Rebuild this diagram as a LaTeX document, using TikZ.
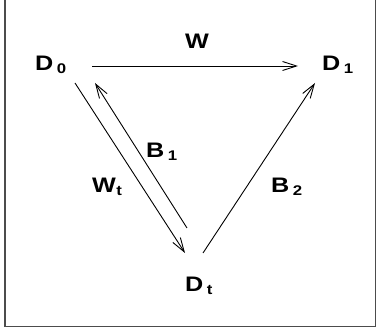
\documentclass[tikz,border=0pt]{standalone}
\usepackage{fontspec}
\setmainfont{Liberation Sans}
\usetikzlibrary{arrows.meta}
\newcommand{\hs}[1]{\scalebox{1.2}[1]{#1}}
\newcommand{\lbl}[2]{\hs{\textbf{#1}}\hspace{3.5pt}\raisebox{-3pt}{\fontsize{14}{14}\selectfont\hs{\textbf{#2}}}}
\newcommand{\lblt}[2]{\hs{\textbf{#1}}\hspace{0.5pt}\raisebox{-3pt}{\fontsize{14}{14}\selectfont\hs{\textbf{#2}}}}
\begin{document}
\begin{tikzpicture}[x=1pt,y=-1pt,
  txt/.style={inner sep=0pt,anchor=base west,font=\fontsize{21}{21}\selectfont},
  arr/.style={line width=0.9pt,-{Straight Barb[length=14pt,width=9pt,line width=0.9pt]}},
  frame/.style={line width=1.5pt,draw=black!70}]
\useasboundingbox (0,0) rectangle (376,328);
\draw[frame] (5,0) -- (5,326.5) -- (375.25,326.5) -- (375.25,0);
\node[txt] (D0) at (35,71) {\lbl{D}{0}};
\node[txt] (D1) at (322,71) {\lbl{D}{1}};
\node[txt] (Dt) at (185,292) {\lbl{D}{t}};
\node[txt] (W) at (185,49) {\hs{\textbf{W}}};
\node[txt] (Wt) at (92,193) {\lblt{W}{t}};
\node[txt] (B1) at (146,158) {\lbl{B}{1}};
\node[txt] (B2) at (271,193) {\lbl{B}{2}};
\coordinate (a1) at (92,66);
\coordinate (a2) at (298,66);
\coordinate (b1) at (75,83);
\coordinate (b2) at (185,253);
\coordinate (c1) at (187,228);
\coordinate (c2) at (95,83);
\coordinate (d1) at (203,253);
\coordinate (d2) at (315,83);
\draw[arr] (a1) -- (a2);
\draw[arr] (b1) -- (b2);
\draw[arr] (c1) -- (c2);
\draw[arr] (d1) -- (d2);
\end{tikzpicture}
\end{document}
